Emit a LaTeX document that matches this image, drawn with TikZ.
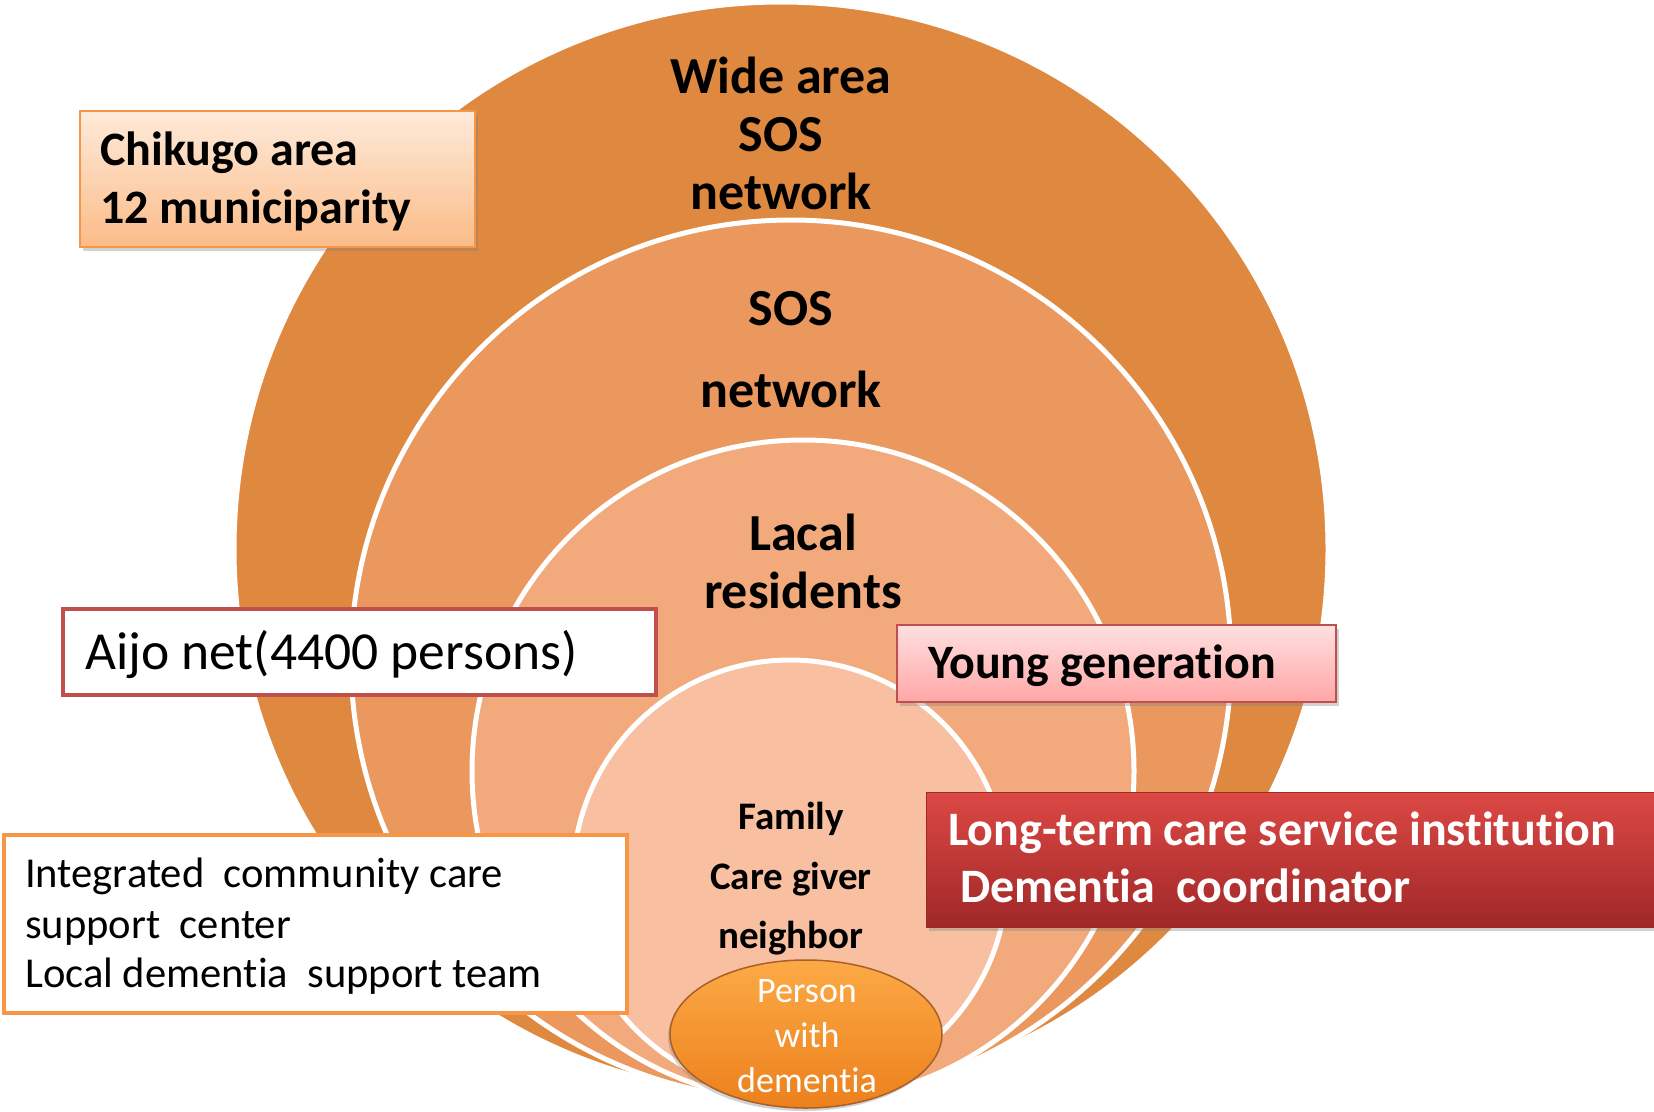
\documentclass[tikz,border=0pt]{standalone}
\usepackage{fontspec}
\setmainfont{Carlito}[Ligatures={NoCommon,NoContextual}]
\usetikzlibrary{shapes.geometric,shadows}
\definecolor{ringA}{RGB}{223,136,64}
\definecolor{ringB}{RGB}{234,152,94}
\definecolor{ringC}{RGB}{242,170,124}
\definecolor{ringD}{RGB}{248,191,160}
\definecolor{accOrange}{RGB}{247,150,70}
\definecolor{accRed}{RGB}{192,80,77}
\definecolor{peachTop}{RGB}{254,234,218}
\definecolor{peachBot}{RGB}{251,188,136}
\definecolor{pinkTop}{RGB}{255,224,224}
\definecolor{pinkBot}{RGB}{255,166,166}
\definecolor{redTop}{RGB}{220,72,68}
\definecolor{redBot}{RGB}{160,40,40}
\definecolor{ballTop}{RGB}{252,170,70}
\definecolor{ballBot}{RGB}{236,128,28}
\definecolor{ballEdge}{RGB}{170,95,40}
\begin{document}
\begin{tikzpicture}[x=1pt,y=-1pt,
  ring/.style={circle, draw=white, line width=5pt, inner sep=0pt},
  biglbl/.style={anchor=base, inner sep=0pt, font=\fontsize{52}{58}\selectfont\bfseries},
  smalllbl/.style={anchor=base, inner sep=0pt, font=\fontsize{39}{45}\selectfont\bfseries},
  balllbl/.style={anchor=base, inner sep=0pt, text=white, font=\fontsize{36}{44}\selectfont},
  boxtxt/.style={anchor=base west, inner sep=0pt},
  shadowed/.style={drop shadow={shadow xshift=3pt, shadow yshift=-4pt, opacity=0.35}},
  peachbox/.style={rectangle, inner sep=0pt, draw=accOrange, line width=2pt, top color=peachTop, bottom color=peachBot, shadowed},
  pinkbox/.style={rectangle, inner sep=0pt, draw=accRed, line width=2pt, top color=pinkTop, bottom color=pinkBot, shadowed},
  redbox/.style={rectangle, inner sep=0pt, draw=redBot, line width=1pt, top color=redTop, bottom color=redBot, shadowed},
  whitebox/.style={rectangle, inner sep=0pt, fill=white, line width=4pt}
]
\useasboundingbox (0,0) rectangle (1654,1111);
\fill[white] (0,0) rectangle (1654,1111);

% rings
\node[ring, fill=ringA, minimum size=1094pt] (c1) at (781,549) {};
\node[ring, fill=ringB, minimum size=880pt] (c2) at (791,660) {};
\node[ring, fill=ringC, minimum size=662pt] (c3) at (803,771) {};
\node[ring, fill=ringD, minimum size=434pt] (c4) at (790,877) {};

% ring labels
\node[biglbl] (wa1) at (781,93) {Wide area};
\node[biglbl] (wa2) at (781,151) {SOS};
\node[biglbl] (wa3) at (781,209) {network};
\node[biglbl] (sos1) at (791,325) {SOS};
\node[biglbl] (sos2) at (791,407) {network};
\node[biglbl] (lr1) at (803,550) {Lacal};
\node[biglbl] (lr2) at (803,608) {residents};
\node[smalllbl] (fm1) at (791,829) {Family};
\node[smalllbl] (fm2) at (791,889) {Care giver};
\node[smalllbl] (fm3) at (791,948) {neighbor};

% person with dementia
\node[ellipse, minimum width=272pt, minimum height=148pt, inner sep=0pt,
      top color=ballTop, bottom color=ballBot, draw=ballEdge, line width=1.5pt,
      drop shadow={shadow xshift=-2pt, shadow yshift=-3pt, opacity=0.35}] (pwd) at (806,1034) {};
\node[balllbl] (pwd1) at (807,1002) {Person};
\node[balllbl] (pwd2) at (807,1047) {with};
\node[balllbl] (pwd3) at (807,1092) {dementia};

% Chikugo box
\node[peachbox, minimum width=395pt, minimum height=136pt] (chik) at (277.5,179) {};
\node[boxtxt, font=\fontsize{48}{58}\selectfont\bfseries] (chik1) at (100,165) {Chikugo area};
\node[boxtxt, font=\fontsize{48}{58}\selectfont\bfseries] (chik2) at (100,223) {12 municiparity};

% Aijo net box
\node[whitebox, draw=accRed, minimum width=593pt, minimum height=86pt] (aijo) at (359.5,652) {};
\node[boxtxt, font=\fontsize{53.5}{60}\selectfont] (aijo1) at (85,669) {Aijo net(4400 persons)};

% Young generation box
\node[pinkbox, minimum width=439pt, minimum height=77pt] (young) at (1116.5,663.5) {};
\node[boxtxt, font=\fontsize{48}{56}\selectfont\bfseries] (young1) at (928,678) {Young generation};

% Long-term care box
\node[redbox, minimum width=754pt, minimum height=135pt] (ltc) at (1303,859.5) {};
\node[boxtxt, text=white, font=\fontsize{48}{57}\selectfont\bfseries] (ltc1) at (948,845) {Long-term care service institution};
\node[boxtxt, text=white, font=\fontsize{48}{57}\selectfont\bfseries] (ltc2) at (960,902) {Dementia~ coordinator};

% Integrated community care box
\node[whitebox, draw=accOrange, minimum width=623pt, minimum height=178pt] (icc) at (315.5,924) {};
\node[boxtxt, font=\fontsize{42.6}{50}\selectfont] (icc1) at (25,887) {Integrated~ community care};
\node[boxtxt, font=\fontsize{42.6}{50}\selectfont] (icc2) at (25,938) {support~ center};
\node[boxtxt, font=\fontsize{42.6}{50}\selectfont] (icc3) at (25,987) {Local dementia~ support team};
\end{tikzpicture}
\end{document}
